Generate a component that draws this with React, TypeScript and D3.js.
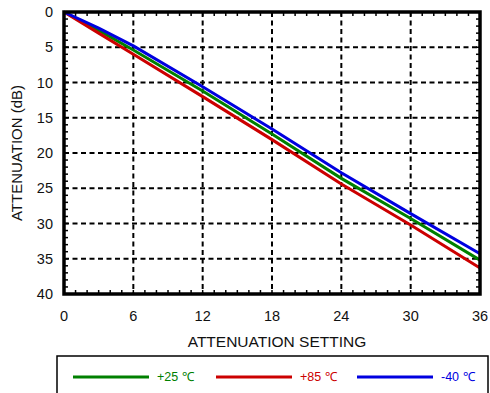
import React, { useEffect, useRef } from 'react';
import * as d3 from 'd3';

const settings = [0, 3, 6, 12, 18, 24, 30, 36];
const plus25 = [0, 2.6, 5.4, 11.2, 17.3, 23.6, 29.3, 35.2];
const plus85 = [0, 3.0, 6.0, 12.0, 18.1, 24.4, 30.2, 36.3];
const minus40 = [0, 2.3, 4.8, 10.6, 16.6, 22.8, 28.6, 34.3];

const xTicks = [0, 6, 12, 18, 24, 30, 36];
const yTicks = [0, 5, 10, 15, 20, 25, 30, 35, 40];

const series = [
  { name: '+25 \u2103', values: plus25, color: '#008000' },
  { name: '+85 \u2103', values: plus85, color: '#cc0000' },
  { name: '-40 \u2103', values: minus40, color: '#0000e0' },
];

const App = () => {
  const ref = useRef<SVGSVGElement>(null);

  useEffect(() => {
    const svg = d3.select(ref.current);
    svg.selectAll('*').remove();

    const left = 64, right = 480, top = 12, bottom = 294;
    const font = 'Liberation Sans, Arial, Helvetica, sans-serif';

    const x = d3.scaleLinear().domain([0, 36]).range([left, right]);
    const y = d3.scaleLinear().domain([0, 40]).range([top, bottom]);

    // grid
    const grid = svg.append('g')
      .attr('stroke', '#000')
      .attr('stroke-width', 2)
      .attr('stroke-dasharray', '5,3.5');
    yTicks.slice(1, -1).forEach(t => {
      grid.append('line').attr('x1', left).attr('x2', right).attr('y1', y(t)).attr('y2', y(t));
    });
    xTicks.slice(1, -1).forEach(t => {
      grid.append('line').attr('y1', top).attr('y2', bottom).attr('x1', x(t)).attr('x2', x(t));
    });

    // minor ticks
    const minor = svg.append('g').attr('stroke', '#000').attr('stroke-width', 1.5);
    d3.range(1, 36).forEach(t => {
      minor.append('line').attr('x1', x(t)).attr('x2', x(t)).attr('y1', bottom).attr('y2', bottom - 4);
      minor.append('line').attr('x1', x(t)).attr('x2', x(t)).attr('y1', top).attr('y2', top + 4);
    });
    d3.range(1, 40).forEach(t => {
      minor.append('line').attr('y1', y(t)).attr('y2', y(t)).attr('x1', left).attr('x2', left + 4);
      minor.append('line').attr('y1', y(t)).attr('y2', y(t)).attr('x1', right).attr('x2', right - 4);
    });

    // lines
    const line = d3.line<number>()
      .x((d, i) => x(settings[i]))
      .y(d => y(d));
    series.forEach(s => {
      svg.append('path')
        .attr('d', line(s.values))
        .attr('fill', 'none')
        .attr('stroke', s.color)
        .attr('stroke-width', 3);
    });

    // frame
    svg.append('rect')
      .attr('x', left).attr('y', top)
      .attr('width', right - left).attr('height', bottom - top)
      .attr('fill', 'none').attr('stroke', '#000').attr('stroke-width', 3.5);

    // tick labels
    svg.append('g').selectAll('text').data(yTicks).enter().append('text')
      .attr('x', 53).attr('y', d => y(d)).attr('dy', '0.35em')
      .attr('text-anchor', 'end')
      .attr('font-family', font).attr('font-size', 14.5).attr('fill', '#111')
      .text(d => d);
    svg.append('g').selectAll('text').data(xTicks).enter().append('text')
      .attr('x', d => x(d)).attr('y', 321)
      .attr('text-anchor', 'middle')
      .attr('font-family', font).attr('font-size', 14.5).attr('fill', '#111')
      .text(d => d);

    // axis titles
    svg.append('text')
      .attr('x', 277).attr('y', 347)
      .attr('text-anchor', 'middle')
      .attr('font-family', font).attr('font-size', 15.5).attr('fill', '#111')
      .text('ATTENUATION SETTING');
    svg.append('text')
      .attr('transform', `translate(22,${(top + bottom) / 2}) rotate(-90)`)
      .attr('text-anchor', 'middle')
      .attr('font-family', font).attr('font-size', 15).attr('fill', '#111')
      .text('ATTENUATION (dB)');

    // legend
    svg.append('rect')
      .attr('x', 57).attr('y', 356).attr('width', 431).attr('height', 45)
      .attr('fill', '#fff').attr('stroke', '#000').attr('stroke-width', 1.5);
    const legendX = [73, 216, 357];
    series.forEach((s, i) => {
      svg.append('line')
        .attr('x1', legendX[i]).attr('x2', legendX[i] + 76)
        .attr('y1', 377).attr('y2', 377)
        .attr('stroke', s.color).attr('stroke-width', 3);
      svg.append('text')
        .attr('x', legendX[i] + 84).attr('y', 377).attr('dy', '0.35em')
        .attr('font-family', font).attr('font-size', 12.5).attr('fill', s.color)
        .text(s.name);
    });
  }, []);

  return (
    <svg ref={ref} width={490} height={393}
      style={{ position: 'absolute', left: 0, top: 0, background: '#fff' }} />
  );
};

export default App;
